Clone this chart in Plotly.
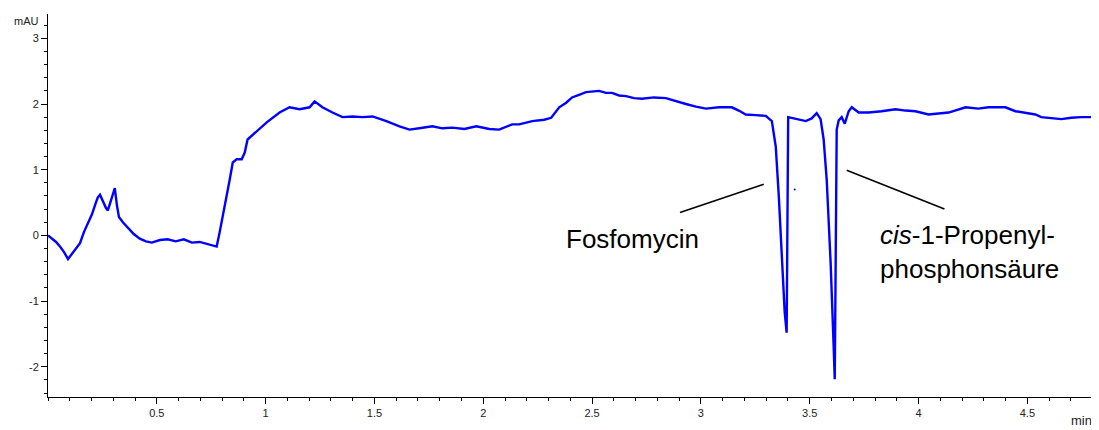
import plotly.graph_objects as go

# retention time (min)
time_min = [0.000, 0.018, 0.037, 0.055, 0.073, 0.092, 0.106, 0.124, 0.147, 0.165,
            0.183, 0.202, 0.220, 0.229, 0.239, 0.252, 0.266, 0.275, 0.289, 0.303,
            0.307, 0.317, 0.326, 0.344, 0.367, 0.394, 0.422, 0.450, 0.477, 0.514,
            0.550, 0.587, 0.624, 0.661, 0.697, 0.734, 0.761, 0.775, 0.789, 0.803,
            0.821, 0.835, 0.849, 0.867, 0.890, 0.904, 0.917, 0.959, 1.005, 1.064,
            1.110, 1.156, 1.202, 1.225, 1.261, 1.307, 1.353, 1.399, 1.445, 1.491,
            1.555, 1.615, 1.661, 1.706, 1.766, 1.812, 1.858, 1.913, 1.968, 2.028,
            2.073, 2.133, 2.165, 2.225, 2.280, 2.312, 2.349, 2.381, 2.408, 2.440,
            2.472, 2.532, 2.564, 2.592, 2.624, 2.656, 2.693, 2.729, 2.784, 2.839,
            2.885, 2.931, 2.977, 3.023, 3.083, 3.142, 3.174, 3.206, 3.252, 3.298,
            3.326, 3.344, 3.358, 3.372, 3.385, 3.394, 3.401, 3.427, 3.450, 3.482,
            3.509, 3.532, 3.550, 3.564, 3.578, 3.596, 3.610, 3.615, 3.624, 3.633,
            3.647, 3.661, 3.679, 3.693, 3.725, 3.771, 3.830, 3.894, 3.940, 3.986,
            4.046, 4.092, 4.138, 4.216, 4.275, 4.321, 4.399, 4.445, 4.505, 4.537,
            4.564, 4.610, 4.656, 4.702, 4.748, 4.812]

# absorbance (mAU)
signal_mau = [0.00, -0.05, -0.10, -0.17, -0.25, -0.36, -0.30, -0.22, -0.12, 0.05,
              0.18, 0.32, 0.50, 0.58, 0.62, 0.52, 0.42, 0.38, 0.52, 0.65,
              0.72, 0.45, 0.28, 0.20, 0.12, 0.02, -0.05, -0.09, -0.11, -0.07,
              -0.06, -0.09, -0.06, -0.11, -0.10, -0.13, -0.15, -0.17, 0.05, 0.29,
              0.55, 0.85, 1.11, 1.16, 1.16, 1.26, 1.46, 1.58, 1.72, 1.87,
              1.95, 1.92, 1.95, 2.04, 1.95, 1.87, 1.80, 1.81, 1.80, 1.81,
              1.74, 1.66, 1.61, 1.63, 1.66, 1.63, 1.64, 1.62, 1.66, 1.62,
              1.61, 1.69, 1.69, 1.74, 1.76, 1.79, 1.95, 2.02, 2.10, 2.14,
              2.18, 2.20, 2.17, 2.17, 2.13, 2.12, 2.09, 2.08, 2.10, 2.09,
              2.04, 2.00, 1.96, 1.93, 1.95, 1.95, 1.90, 1.84, 1.83, 1.82,
              1.74, 1.35, 0.59, -0.41, -1.17, -1.48, 1.80, 1.78, 1.76, 1.74,
              1.78, 1.86, 1.77, 1.46, 0.85, -0.41, -1.69, -2.19, 1.61, 1.75,
              1.80, 1.70, 1.89, 1.95, 1.87, 1.87, 1.89, 1.92, 1.90, 1.89,
              1.84, 1.86, 1.87, 1.95, 1.93, 1.95, 1.95, 1.89, 1.86, 1.84,
              1.80, 1.78, 1.77, 1.79, 1.80, 1.80]

# isolated single data point visible between the two peaks
stray_time = [3.431]
stray_mau = [0.70]

x_ticks = [0.5, 1, 1.5, 2, 2.5, 3, 3.5, 4, 4.5]
x_tick_labels = ["0.5", "1", "1.5", "2", "2.5", "3", "3.5", "4", "4.5"]
y_ticks = [-2, -1, 0, 1, 2, 3]
y_tick_labels = ["-2", "-1", "0", "1", "2", "3"]

peak_labels = ["Fosfomycin", "<i>cis</i>-1-Propenyl-<br>phosphonsäure"]

fig = go.Figure()
fig.add_trace(go.Scatter(x=time_min, y=signal_mau, mode="lines",
                         line=dict(color="#0000ff", width=2.4), showlegend=False,
                         hoverinfo="skip"))
fig.add_trace(go.Scatter(x=stray_time, y=stray_mau, mode="markers",
                         marker=dict(color="#0000ff", size=2), showlegend=False,
                         hoverinfo="skip"))

axis_font = dict(family="Liberation Sans, Arial, sans-serif", size=11, color="#222")

# page body has an 8px margin, so the figure is sized/offset to compensate
fig.update_layout(
    width=1091, height=422,
    margin=dict(l=40, r=2, t=6, b=33),
    paper_bgcolor="white", plot_bgcolor="white",
    xaxis=dict(range=[0, 4.82], showgrid=False, zeroline=False,
               showline=True, linecolor="black", linewidth=1,
               ticks="outside", ticklen=6, tickcolor="black",
               tickvals=x_ticks, ticktext=x_tick_labels, tickfont=axis_font,
               minor=dict(dtick=0.1, tick0=0, ticks="outside", ticklen=3, tickcolor="black")),
    yaxis=dict(range=[-2.46, 3.37], showgrid=False, zeroline=False,
               showline=True, linecolor="black", linewidth=1,
               ticks="outside", ticklen=6, tickcolor="black",
               tickvals=y_ticks, ticktext=y_tick_labels, tickfont=axis_font,
               minor=dict(dtick=0.2, tick0=0, ticks="outside", ticklen=3, tickcolor="black")),
    font=dict(family="Liberation Sans, Arial, sans-serif"),
)

# unit labels
fig.add_annotation(text="mAU", xref="paper", yref="paper", x=-0.007, y=0.982,
                   xanchor="right", yanchor="middle", showarrow=False,
                   font=dict(family="Liberation Sans, Arial, sans-serif", size=11, color="#222"))
fig.add_annotation(text="min", xref="paper", yref="paper", x=0.997, y=-0.062,
                   xanchor="right", yanchor="middle", showarrow=False,
                   font=dict(family="Liberation Sans, Arial, sans-serif", size=13, color="#222"))

# peak labels and leader lines
label_font = dict(family="Liberation Sans, Arial, sans-serif", size=26, color="black")
fig.add_annotation(text=peak_labels[0], x=2.372, y=-0.05, xref="x", yref="y",
                   xanchor="left", yanchor="middle", showarrow=False, font=label_font)
fig.add_annotation(text=peak_labels[1], x=3.815, y=-0.25, xref="x", yref="y",
                   xanchor="left", yanchor="middle", align="left", showarrow=False,
                   font=label_font)
fig.add_shape(type="line", x0=2.904, y0=0.35, x1=3.289, y1=0.78, xref="x", yref="y",
              line=dict(color="black", width=1.6))
fig.add_shape(type="line", x0=3.670, y0=0.99, x1=4.119, y1=0.40, xref="x", yref="y",
              line=dict(color="black", width=1.6))

fig.write_html("out.html")
